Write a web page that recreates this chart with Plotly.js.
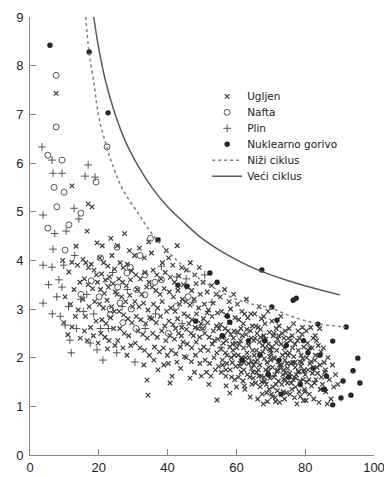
<!DOCTYPE html>
<html><head><meta charset="utf-8">
<script src="https://cdn.plot.ly/plotly-3.0.1.min.js"></script>
<style>html,body{margin:0;padding:0;background:#fff}#chart{width:384px;height:477px}</style>
</head><body><div id="chart"></div>
<script>
// Ugljen (coal)
const coalX = [7.6,12.2,9.5,11.3,12.8,10.2,14,12.2,11,13.4,12.2,13.8,14.5,9.8,13.2,14.6,11.8,
16.9,18,16.6,19.5,15.4,16.2,17,17.8,18.6,19.3,15.8,16.9,18.2,19.6,15.3,17.2,18.8,16.1,17.6,19.2,18.4,16.6,19.8,15.8,
20.3,21.4,22.6,23.8,24.6,20.8,21.9,23.1,24.2,20.5,21.6,22.8,24.8,20.2,21.3,22.4,23.7,24.5,20.9,22.1,23.4,24.3,20.6,21.8,23,24.7,22.5,21,23.5,
25.4,27.5,28.9,26.2,27.1,28.3,29.5,25.8,26.9,28,29.2,25.3,26.6,27.8,29,29.8,25.9,27.2,28.5,29.6,26.1,27.4,28.7,25.5,29.3,27,28.2,
30.4,31.8,33.2,34.5,30.8,32.1,33.4,34.6,31.2,32.5,33.9,30.5,31.7,33,34.3,30.9,32.2,33.6,34.8,31.4,32.8,34.1,30.6,32,33.3,34.7,34.3,34,33.1,
35.3,37.2,38.5,39.6,35.8,36.9,38.1,39.3,35.5,36.6,37.8,39,35.9,37.1,38.4,39.7,35.4,36.7,37.9,39.2,35.7,37,38.3,39.5,36.2,37.6,38.8,39.9,37.2,36,38.9,
40.3,41.5,42.8,44.1,40.8,42,43.3,44.6,40.5,41.7,43,44.3,40.9,42.2,43.5,44.8,40.4,41.6,42.9,44.1,40.7,42,43.2,44.5,41.1,42.4,43.7,44.9,40.7,41.3,42.7,43.8,40.2,42.3,44,
45.4,46.6,47.9,49.2,45.8,47,48.3,49.5,45.3,46.5,47.7,49,45.9,47.1,48.4,49.7,45.5,46.8,48,49.3,45.7,47,48.3,49.6,45.4,46.9,48.1,49.4,46.5,47.8,49.8,46.2,48.8,47.5,
50.3,51.5,52.8,54.1,50.7,51.9,53.2,54.5,50.4,51.6,52.9,54.2,50.8,52.1,53.3,54.6,50.5,51.8,53,54.3,50.9,52.2,53.5,54.8,51.3,52.6,53.9,54.4,52,51.5,50.2,53.6,54.9,
55.3,56.6,57.9,59.2,55.7,57,58.3,59.6,55.4,56.7,58,59.3,55.8,57.1,58.4,59.7,55.5,56.8,58.1,59.4,55.9,57.2,58.5,59.8,55.6,56.9,58.2,59.5,58.1,57,56.2,57.6,59,58.8,56,
60.3,61.6,62.9,64.2,60.7,62,63.3,64.6,60.4,61.7,63,64.3,60.8,62.1,63.4,64.7,60.5,61.8,63.1,64.4,60.9,62.2,63.5,64.8,60.6,61.9,63.2,64.5,62.5,64,61.2,62.7,63.9,61.4,64.1,62.4,
65.3,66.6,67.9,69.2,65.7,67,68.3,69.6,65.4,66.7,68,69.3,65.8,67.1,68.4,69.7,65.5,66.8,68.1,69.4,65.9,67.2,68.5,69.8,65.6,66.9,68.2,69.5,67.5,66.2,69,66,67.6,68.9,66.4,68.7,67.3,65.2,69.9,67.8,
70.3,71.6,72.9,74.2,70.7,72,73.3,74.6,70.4,71.7,73,74.3,70.8,72.1,73.4,74.7,70.5,71.8,73.1,74.4,70.9,72.2,73.5,74.8,70.6,71.9,73.2,74.5,71.3,72.6,74,70.2,72.4,73.8,71.1,72.8,74.1,71.5,73.6,70.1,
75.3,76.6,77.9,79.2,75.7,77,78.3,79.6,75.4,76.7,78,79.3,75.8,77.1,78.4,79.7,75.5,76.8,78.1,79.4,75.9,77.2,78.5,79.8,75.6,76.9,78.2,79.5,77.6,76.2,78.8,77.4,79,
80.3,81.6,82.9,84.2,80.7,82,83.3,84.6,80.4,81.7,83,84.3,80.8,82.1,83.4,84.7,80.5,81.8,83.1,84.4,81.2,82.5,84,80.2,
85.3,86.6,87.9,85.7,87,88.3,86,87.5,88.8,86.4,85.5,89.5,
56.4,57.3,58.6,59.1,60.1,61.1,61.3,62.3,62.8,63.7,64.9,65.1,66.1,66.3,67.4,67.7,68.6,68.8,69.1,70,70.9,71.2,71.4,72.3,72.5,73.7,73.9,74.9,75.1,76.1,76.4,76.3,77.3,77.8,78.6,78.7,79.1,80,80.9,81.1,81.4,82.3,82.7,83.6,83.8,85,85.9,56.9,58.9,60,61.5,63.6,65,66.5,68,69.6,70.5,72,73.8,75,76.5,78,79.9,81.3,82.8,84.5,62.2,64.4,67,69.2,71.6,74.2,77,79.5];
const coalY = [7.43,5.53,4.0,3.76,3.4,3.25,2.98,2.63,2.47,4.29,3.96,3.9,3.55,2.72,2.85,2.4,3.1,
5.16,5.1,4.6,4.36,4.02,3.95,3.85,3.92,3.8,3.7,3.62,3.5,3.42,3.55,3.2,3.05,3.15,2.85,2.62,2.75,2.45,2.35,2.3,2.55,
4.05,3.95,3.88,4.1,3.82,3.72,3.6,3.66,3.52,3.4,3.32,3.45,3.35,3.1,3.02,3.18,3.05,2.95,2.78,2.7,2.82,2.6,2.5,2.42,2.35,2.25,2.18,4.3,4.45,
4.3,4.55,4.2,3.95,3.85,3.92,3.78,3.62,3.55,3.48,3.6,3.3,3.25,3.15,3.28,3.05,2.95,2.88,2.8,2.72,2.6,2.5,2.45,2.35,2.25,2.2,2.05,
4.1,4.25,4.05,4.38,3.7,3.62,3.75,3.55,3.4,3.3,3.45,3.15,3.05,3.12,2.98,2.85,2.78,2.7,2.82,2.55,2.48,2.4,2.3,2.2,2.15,2.05,1.23,1.54,1.85,
4.15,4.42,3.95,4.2,3.8,3.7,3.62,3.75,3.45,3.38,3.3,3.42,3.1,3.02,3.15,2.95,2.8,2.72,2.85,2.65,2.5,2.42,2.55,2.35,2.22,2.12,2.2,2.05,1.75,1.95,1.85,
4.05,3.9,4.3,3.85,3.65,3.55,3.68,3.5,3.35,3.25,3.38,3.2,3.02,2.95,3.1,2.9,2.75,2.68,2.8,2.62,2.45,2.38,2.5,2.32,2.15,2.08,2.22,2.02,1.48,1.62,1.91,1.78,1.88,2.6,2.45,
3.8,3.95,3.7,3.85,3.45,3.38,3.52,3.3,3.15,3.08,3.2,3.02,2.85,2.78,2.9,2.7,2.58,2.5,2.62,2.42,2.28,2.2,2.32,2.15,2.0,1.92,2.05,1.88,1.58,1.7,1.62,2.7,2.6,2.45,
3.55,3.35,3.48,3.3,3.1,2.98,3.12,2.92,2.8,2.72,2.85,2.65,2.5,2.42,2.55,2.38,2.22,2.15,2.28,2.1,1.95,1.88,2.0,1.82,1.7,1.62,1.75,1.13,1.45,2.92,2.6,2.35,2.6,
3.25,3.4,3.15,3.3,2.95,2.88,3.0,2.82,2.68,2.6,2.72,2.55,2.42,2.35,2.48,2.3,2.18,2.1,2.22,2.05,1.95,1.88,2.0,1.82,1.7,1.62,1.75,1.55,1.27,1.42,2.3,2.55,2.15,1.9,1.85,
3.1,2.95,3.2,2.9,2.78,2.7,2.82,2.65,2.52,2.45,2.58,2.4,2.28,2.2,2.32,2.15,2.05,1.98,2.1,1.92,1.82,1.75,1.88,1.7,1.6,1.52,1.65,1.45,1.35,1.19,2.35,2.0,1.6,1.7,2.55,2.9,
2.9,3.05,2.85,2.95,2.65,2.58,2.7,2.52,2.4,2.32,2.45,2.28,2.15,2.08,2.2,2.02,1.92,1.85,1.98,1.8,1.7,1.62,1.75,1.58,1.48,1.4,1.52,1.35,1.25,1.15,1.1,2.5,2.25,1.9,1.75,1.45,2.8,2.05,2.15,1.05,
2.75,2.6,2.85,2.55,2.45,2.38,2.5,2.3,2.22,2.15,2.28,2.1,2.0,1.92,2.05,1.88,1.8,1.72,1.85,1.68,1.6,1.52,1.65,1.48,1.4,1.32,1.45,1.28,1.18,1.08,1.15,1.25,2.65,2.4,1.98,1.78,1.95,1.45,1.3,2.1,
2.6,2.7,2.55,2.62,2.35,2.28,2.4,2.22,2.1,2.02,2.15,1.98,1.88,1.8,1.92,1.75,1.68,1.6,1.72,1.55,1.48,1.4,1.52,1.35,1.25,1.18,1.3,1.12,1.05,2.45,2.05,1.65,1.9,
2.55,2.62,2.45,2.6,2.3,2.2,2.35,2.12,2.0,1.92,2.05,1.85,1.75,1.68,1.8,1.6,1.5,1.42,1.55,1.35,1.25,1.15,1.08,1.12,
2.2,2.0,1.85,1.7,1.55,1.4,1.3,1.15,1.65,1.05,1.9,1.45,
2.45,2.05,1.6,2.4,2.2,1.88,2.6,1.42,2.48,2.0,1.58,2.35,1.95,2.62,1.5,2.12,2.38,1.28,1.7,1.95,2.5,1.65,1.1,2.45,1.85,1.55,2.2,1.78,2.4,1.35,1.9,2.2,1.58,2.35,1.2,1.82,2.48,1.65,2.15,1.55,1.88,2.4,1.48,1.68,2.25,1.45,1.75,1.75,2.28,1.4,2.0,2.25,1.85,1.62,1.6,2.18,1.2,1.75,1.75,2.05,1.55,1.7,1.3,2.2,1.95,1.35,1.9,1.78,2.42,1.72,2.3,1.55,1.9,1.72];
// Nafta (oil)
const oilX = [7.6,7.6,5.2,9.3,22.4,19.2,7,9.9,7.8,14.8,5.2,11.3,10.2,25.3,29.1,33.4,28.2,26.2,23.3,23.3,33.4,36.3,29.4,31,38.2,35,20.1,22.6,27,30.8,50.3,42.5,46,20.5,25.5,17.8,14.8,32,40.2];
const oilY = [7.8,6.74,6.16,6.06,6.33,5.61,5.5,5.4,5.1,4.97,4.66,4.73,4.21,4.27,3.86,3.7,3.74,3.12,3.0,2.88,3.29,3.55,3.0,3.4,3.6,4.45,3.25,3.55,2.72,2.6,2.63,3.05,3.25,4.05,3.45,3.58,3.3,4.1,2.5];
// Plin (gas)
const gasX = [3.5,6.4,6.7,9.3,16.9,16,18.9,12.8,3.8,6.7,3.8,6.4,8.4,9.3,3.8,7.8,10.2,11.6,19.5,21.2,5.4,8.8,11.2,13.5,14.8,15.5,17.5,13,10.5,7.2,14.2,9.8,16.5,18.5,20.5,22.8,25.2,30.5,26.8,42.7,45.4,47.4,52.9,50.8,38.2,33.5,36.5,55.5,60.2,44.2,28.3,24,12,6.5];
const gasY = [6.33,6.06,5.79,5.79,5.96,5.73,5.71,5.07,4.93,4.23,3.9,3.86,3.6,3.45,3.12,3.25,2.67,2.36,2.16,1.95,3.5,2.85,3.05,2.6,3.2,2.95,2.3,4.1,4.6,4.55,4.85,3.9,3.3,2.9,2.6,2.6,2.1,1.91,3.05,3.66,3.62,3.14,3.14,3.7,3.88,2.6,2.9,2.2,2.5,2.7,3.4,3.75,2.1,2.9];
// Nuklearno gorivo (nuclear)
const nucX = [5.8,17.2,22.7,37.2,52.3,54.4,67.4,76.5,77.4,70.3,71.8,83.7,91.9,88,95.3,93.9,95.9,91,93.3,90.4,88,84.3,80.8,58.1,57.4,43,45.6,63.5,66.8,72.4,75.2,78.6,82.3,86.2,69.3,74.5,61.6,55.9,79.5,85.6,68.2,48.2,73];
const nucY = [8.42,8.28,7.03,4.42,3.74,3.55,3.8,3.18,3.22,3.04,2.77,2.69,2.63,2.34,1.99,1.73,1.48,1.52,1.23,1.17,1.03,2.05,2.1,2.73,2.85,3.49,3.47,2.35,2.05,1.95,1.6,1.45,1.78,1.62,1.65,2.25,1.95,2.45,2.35,1.35,2.35,2.75,1.25];
// Niži ciklus (lower cycle, dotted)
const lowX = [16.2,17.1,18.6,20,22,24.3,27,31.6,35.4,41.2,48.1,57.7,63.5,69.9,76,82.9,91.6];
const lowY = [9.0,8.32,7.63,6.95,6.4,5.9,5.45,4.95,4.55,4.1,3.68,3.27,3.12,3.02,2.85,2.71,2.63];
// Veći ciklus (higher cycle, solid)
const highX = [18.5,20,21.9,24.3,27.7,31.6,35.4,40,45.2,50,54.8,60.6,66.4,75.1,82.9,90.1];
const highY = [9.0,8.35,7.7,7.1,6.45,5.92,5.5,5.1,4.75,4.45,4.22,3.99,3.8,3.58,3.42,3.29];

const names = ['Ugljen','Nafta','Plin','Nuklearno gorivo','Niži ciklus','Veći ciklus'];
const xTicks = [0,20,40,60,80,100];
const yTicks = [0,1,2,3,4,5,6,7,8,9];

const traces = [
  {x: coalX, y: coalY, name: names[0], type:'scatter', mode:'markers',
   marker:{symbol:'x-thin', size:4.5, line:{width:1.2, color:'#3a3a3a'}, color:'#3a3a3a'}},
  {x: oilX, y: oilY, name: names[1], type:'scatter', mode:'markers',
   marker:{symbol:'circle-open', size:6, line:{width:1}, color:'#555'}},
  {x: gasX, y: gasY, name: names[2], type:'scatter', mode:'markers',
   marker:{symbol:'cross-thin', size:5.5, line:{width:1, color:'#555'}, color:'#555'}},
  {x: nucX, y: nucY, name: names[3], type:'scatter', mode:'markers',
   marker:{symbol:'circle-cross-open', size:4, line:{width:1.4}, color:'#222'}},
  {x: lowX, y: lowY, name: names[4], type:'scatter', mode:'lines', line:{shape:'spline', color:'#808080', width:1.5, dash:'dot'}},
  {x: highX, y: highY, name: names[5], type:'scatter', mode:'lines', line:{shape:'spline', color:'#5a5a5a', width:1.5}}
];

const layout = {
  width:384, height:477,
  margin:{l:30, r:10, t:17, b:22},
  paper_bgcolor:'#fff', plot_bgcolor:'#fff',
  font:{family:'Liberation Sans, Arial, sans-serif', size:13, color:'#222'},
  showlegend:true,
  legend:{x:0.515, y:0.852, xanchor:'left', yanchor:'top', bgcolor:'rgba(0,0,0,0)',
          font:{family:'DejaVu Sans, sans-serif', size:10.5, color:'#222'}, itemwidth:30, tracegroupgap:0},
  xaxis:{range:[0,100], tickvals:xTicks, ticktext:xTicks.map(String), ticks:'inside', ticklen:6, tickcolor:'#888',
         ticklabeloverflow:'allow', showline:true, linecolor:'#888', linewidth:1, showgrid:false, zeroline:false, fixedrange:true},
  yaxis:{range:[0,9], tickvals:yTicks, ticktext:yTicks.map(String), ticks:'inside', ticklen:6, tickcolor:'#888',
         ticklabelstandoff:3, showline:true, linecolor:'#888', linewidth:1, showgrid:false, zeroline:false, fixedrange:true}
};
Plotly.newPlot('chart', traces, layout, {staticPlot:true, displayModeBar:false}).then(function(){
  // tighten legend row spacing to match the reference (about 16 px per row)
  const items = document.querySelectorAll('.legend .traces');
  let y0 = null;
  items.forEach(function(g, i){
    const t = g.getAttribute('transform') || '';
    const m = t.match(/translate\(\s*([-\d.]+)[ ,]+([-\d.]+)\s*\)/);
    if (!m) return;
    if (y0 === null) y0 = parseFloat(m[2]);
    g.setAttribute('transform', 'translate(' + m[1] + ',' + (y0 + i * 16) + ')');
  });
});
</script></body></html>
